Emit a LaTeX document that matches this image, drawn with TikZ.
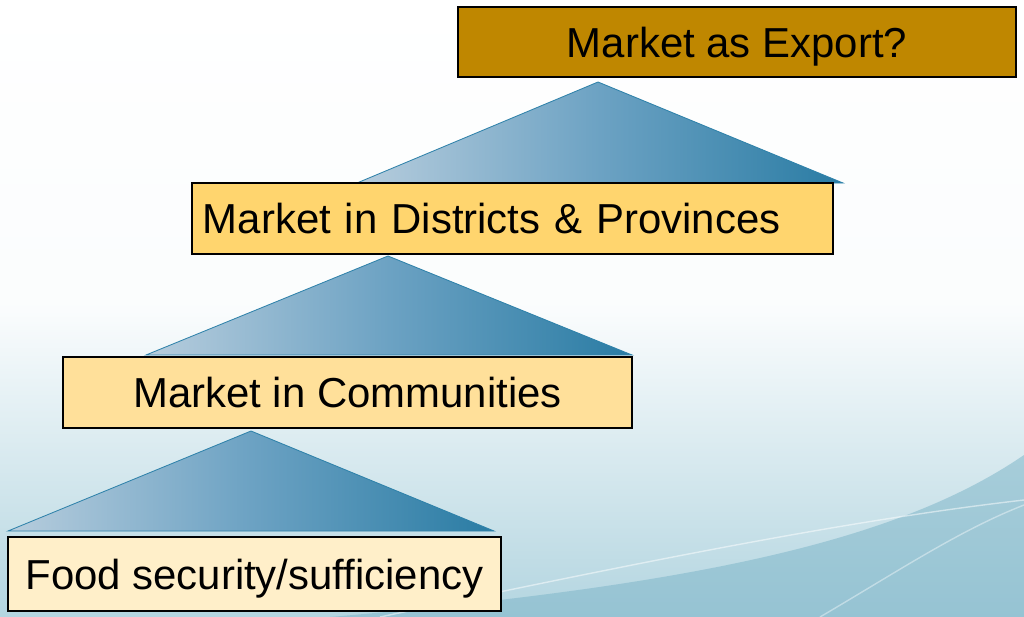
\documentclass[tikz,border=0pt]{standalone}
\usepackage{fontspec}
\setmainfont{Liberation Sans}
\usetikzlibrary{positioning}
\definecolor{exportgold}{HTML}{BF8700}
\definecolor{districtfill}{HTML}{FFD56E}
\definecolor{communityfill}{HTML}{FFE09A}
\definecolor{foodfill}{HTML}{FFEFC9}
\definecolor{wedgelight}{HTML}{B7CDDD}
\definecolor{wedgemid}{HTML}{6CA2C3}
\definecolor{wedgedark}{HTML}{2A7CA4}
\definecolor{wedgeline}{HTML}{2F82AA}
\definecolor{skyblue}{HTML}{B3D5E0}
\definecolor{swoosh}{HTML}{7FB6C9}
\tikzset{
  box/.style={draw=black, line width=1.1pt, inner sep=0pt, text height=27pt, text depth=5pt, font=\fontsize{29.8}{36}\selectfont},
  wedge/.style={draw=wedgeline, line width=0.6pt, left color=wedgelight, right color=wedgedark, middle color=wedgemid},
}

\begin{document}
\begin{tikzpicture}[x=0.025cm, y=-0.025cm]
    \useasboundingbox (0,0) rectangle (1024,617);
    % slide background
    \shade[top color=white, bottom color=skyblue, middle color=white!94!skyblue] (0,0) rectangle (1024,617);
    \fill[swoosh, opacity=.55] (330,617) .. controls (700,585) and (900,540) .. (1024,455) -- (1024,617) -- cycle;
    \draw[white, opacity=.5, line width=1pt] (380,617) .. controls (650,560) and (850,520) .. (1024,500);
    \draw[white, opacity=.4, line width=1pt] (820,617) .. controls (900,570) and (960,530) .. (1024,505);

    \draw[wedge] (598,82) -- (843,183) -- (357,183) -- cycle;
    \draw[wedge] (388,256) -- (632,355) -- (146,355) -- cycle;
    \draw[wedge] (251,431) -- (494,531) -- (8,531) -- cycle;

    \node[box, fill=exportgold, minimum width=13.95cm, minimum height=1.75cm] (export) at (737,42) {Market as Export?};
    \node[box, fill=districtfill, text width=15.475cm, inner xsep=0.275cm, minimum height=1.775cm, align=left] (districts) at (512.5,218.5) {Market in Districts \& Provinces};
    \node[box, fill=communityfill, minimum width=14.225cm, minimum height=1.775cm] (communities) at (347.5,392.5) {Market in Communities};
    \node[box, fill=foodfill, minimum width=12.325cm, minimum height=1.85cm] (food) at (254.5,574) {Food security/sufficiency};
  \end{tikzpicture}
\end{document}
